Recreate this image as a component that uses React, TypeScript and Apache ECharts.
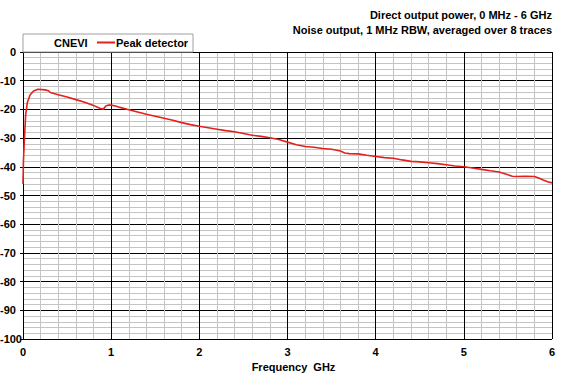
import React, { useEffect, useRef } from "react";
import * as echarts from "echarts";

const freqGHz = [0, 0.005, 0.015, 0.03, 0.05, 0.08, 0.12, 0.17, 0.25, 0.29, 0.31, 0.4, 0.5, 0.6, 0.7, 0.8, 0.87, 0.91, 0.94, 0.97, 1.0, 1.05, 1.1, 1.2, 1.3, 1.4, 1.5, 1.6, 1.7, 1.8, 1.9, 2.0, 2.1, 2.2, 2.3, 2.4, 2.5, 2.6, 2.7, 2.8, 2.9, 3.0, 3.1, 3.2, 3.3, 3.4, 3.5, 3.6, 3.65, 3.7, 3.8, 3.9, 4.0, 4.1, 4.2, 4.3, 4.4, 4.5, 4.6, 4.7, 4.8, 4.9, 5.0, 5.1, 5.2, 5.3, 5.4, 5.5, 5.55, 5.6, 5.7, 5.8, 5.85, 5.9, 5.95, 6.0];
const peakDetector = [-46, -38, -31, -22, -17.5, -15, -13.6, -13.0, -13.2, -13.5, -14.1, -14.9, -15.7, -16.6, -17.5, -18.6, -19.6, -19.9, -18.8, -18.5, -18.5, -18.8, -19.3, -20.1, -20.9, -21.7, -22.4, -23.1, -23.8, -24.6, -25.3, -25.9, -26.4, -26.9, -27.4, -27.8, -28.4, -29.0, -29.4, -29.9, -30.5, -31.4, -32.3, -32.9, -33.2, -33.6, -33.9, -34.5, -35.2, -35.4, -35.5, -36.0, -36.4, -36.8, -37.0, -37.6, -38.1, -38.3, -38.6, -38.9, -39.3, -39.7, -40.0, -40.4, -40.9, -41.4, -41.8, -42.8, -43.3, -43.4, -43.3, -43.4, -43.9, -44.6, -45.2, -45.6];

const titleLines = ["Direct output power, 0 MHz - 6 GHz", "Noise output, 1 MHz RBW, averaged over 8 traces"];
const legendTitle = "CNEVI";
const seriesName = "Peak detector";
const xAxisName = "Frequency  GHz";

const FONT = "'Liberation Sans', Arial, sans-serif";

export default function App() {
  const ref = useRef<HTMLDivElement>(null);
  useEffect(() => {
    if (!ref.current) return;
    const chart = echarts.init(ref.current, null, { renderer: "svg" });
    const labelBase = { fontFamily: FONT, fontWeight: "bold" as const, fontSize: 11, color: "#000" };
    chart.setOption({
      animation: false,
      backgroundColor: "#ffffff",
      grid: { left: 23, right: 18, top: 52, bottom: 41, containLabel: false, outerBoundsMode: "none" },
      graphic: [
        {
          type: "rect",
          shape: { x: 23, y: 34, width: 170, height: 18 },
          style: { fill: "#ffffff", stroke: "#a0a0a0", lineWidth: 1 },
          z: 10,
        },
        {
          type: "text",
          x: 54,
          y: 43,
          style: { text: legendTitle, font: `bold 11px ${FONT}`, fill: "#000", textVerticalAlign: "middle" },
          z: 11,
        },
        {
          type: "text",
          x: 552,
          y: 15,
          style: { text: titleLines[0], font: `bold 11px ${FONT}`, fill: "#000", textAlign: "right", textVerticalAlign: "middle" },
        },
        {
          type: "text",
          x: 552,
          y: 30,
          style: { text: titleLines[1], font: `bold 11px ${FONT}`, fill: "#000", textAlign: "right", textVerticalAlign: "middle" },
        },
      ],
      legend: {
        left: 97,
        top: 37,
        icon: "rect",
        itemWidth: 18,
        itemHeight: 2,
        itemGap: 2,
        padding: 0,
        z: 12,
        textStyle: { ...labelBase, padding: [0, 0, 0, -4] },
        data: [seriesName],
      },
      xAxis: {
        type: "value",
        min: 0,
        max: 6,
        interval: 1,
        name: xAxisName,
        nameLocation: "middle",
        nameGap: 22,
        nameTextStyle: { ...labelBase, padding: [0, 0, 0, 12] },
        axisLine: { show: true, lineStyle: { color: "#000", width: 1 } },
        axisTick: { show: true, length: 3, lineStyle: { color: "#000" } },
        axisLabel: { ...labelBase, margin: 7 },
        splitLine: { show: true, lineStyle: { color: "#000", width: 1 } },
        minorTick: { show: false, splitNumber: 5 },
        minorSplitLine: { show: true, lineStyle: { color: "#c4c4c4", width: 1 } },
      },
      yAxis: {
        type: "value",
        min: -100,
        max: 0,
        interval: 10,
        axisLine: { show: true, onZero: false, lineStyle: { color: "#000", width: 1 } },
        axisTick: { show: true, length: 3, lineStyle: { color: "#000" } },
        axisLabel: {
          ...labelBase,
          margin: 1,
          formatter: (v: number) => (v <= -100 ? `{b|${v}}` : `{a|${v}}`),
          rich: {
            a: { ...labelBase, padding: [0, 6, 0, 0] },
            b: { ...labelBase, padding: [0, 0, 0, 0] },
          },
        },
        splitLine: { show: true, lineStyle: { color: "#000", width: 1 } },
        minorTick: { show: false, splitNumber: 5 },
        minorSplitLine: { show: true, lineStyle: { color: "#c4c4c4", width: 1 } },
      },
      series: [
        {
          name: seriesName,
          type: "line",
          symbol: "none",
          showSymbol: false,
          smooth: false,
          lineStyle: { color: "#e3211c", width: 1.6 },
          itemStyle: { color: "#e3211c" },
          data: freqGHz.map((f, i) => [f, peakDetector[i]]),
          z: 5,
        },
      ],
    });
    return () => chart.dispose();
  }, []);
  return <div ref={ref} style={{ width: 570, height: 380, position: "absolute", left: 0, top: 0 }} />;
}
